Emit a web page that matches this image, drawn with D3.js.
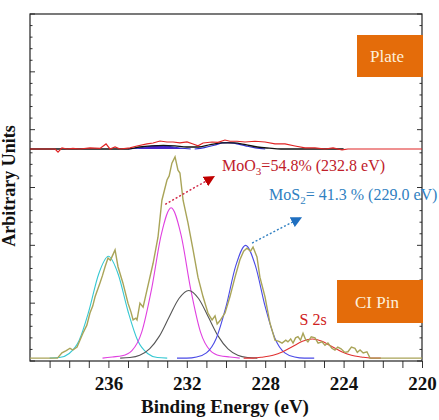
<!DOCTYPE html>
<html>
<head>
<meta charset="utf-8">
<script src="https://cdn.jsdelivr.net/npm/d3@7"></script>
<style>
  body { margin: 0; background: #fff; }
  svg text { font-family: "Liberation Serif", "Times New Roman", serif; }
</style>
</head>
<body>
<svg id="chart"></svg>
<script>
// measured spectrum, CI pin  [binding energy (eV), intensity]
const pinData = [
  [240.0, 0.05], [238.6, 0.05], [238.37, 0.14], [238.15, 0.18], [237.96, 0.22], [237.81, 0.19],
  [237.6, 0.24], [237.3, 0.48], [237.1, 0.62], [236.94, 0.83], [236.8, 0.95], [236.68, 1.11],
  [236.43, 1.35], [236.3, 1.48], [236.17, 1.63], [236.02, 1.78], [235.9, 1.74], [235.82, 1.80],
  [235.66, 1.92], [235.51, 1.63], [235.26, 1.35], [235.0, 1.00], [234.85, 0.85], [234.74, 0.71],
  [234.6, 0.74], [234.54, 0.71], [234.39, 1.00], [234.23, 0.93], [234.03, 1.23], [233.72, 1.69],
  [233.47, 2.14], [233.27, 2.78], [233.01, 3.13], [232.9, 3.20], [232.76, 3.42], [232.6, 3.53],
  [232.45, 3.30], [232.35, 3.25], [232.19, 2.78], [231.94, 2.39], [231.68, 1.92], [231.43, 1.45],
  [231.17, 1.11], [230.92, 0.83], [230.8, 0.76], [230.71, 0.71], [230.56, 0.78], [230.45, 0.64],
  [230.3, 0.70], [230.05, 0.83], [229.8, 1.11], [229.54, 1.45], [229.29, 1.75], [229.1, 1.90],
  [228.93, 1.95], [228.75, 1.90], [228.62, 1.97], [228.42, 1.80], [228.27, 1.45], [228.01, 1.11],
  [227.76, 0.66], [227.5, 0.36], [227.3, 0.34], [227.14, 0.31], [226.95, 0.36], [226.84, 0.33],
  [226.7, 0.38], [226.58, 0.31], [226.45, 0.40], [226.33, 0.42], [226.2, 0.36], [226.07, 0.48],
  [225.95, 0.38], [225.82, 0.33], [225.65, 0.42], [225.46, 0.40], [225.3, 0.31], [225.1, 0.33],
  [224.95, 0.27], [224.8, 0.31], [224.6, 0.22], [224.44, 0.19], [224.3, 0.24], [224.13, 0.21],
  [223.95, 0.15], [223.78, 0.16], [223.6, 0.24], [223.42, 0.22], [223.3, 0.15], [223.16, 0.19],
  [223.0, 0.14], [222.81, 0.16], [222.65, 0.05], [220.0, 0.05]
];

// fitted components, CI pin
const pinMoO3High = [ // 236.0 eV
  [239.0, 0.05], [238.5, 0.06], [238.0, 0.13], [237.5, 0.35], [237.0, 0.86], [236.5, 1.50],
  [236.0, 1.81], [235.5, 1.50], [235.0, 0.86], [234.5, 0.35], [234.0, 0.13], [233.5, 0.06], [233.0, 0.05]
];
const pinMoO3 = [ // 232.8 eV
  [236.3, 0.05], [235.8, 0.07], [235.3, 0.09], [234.8, 0.18], [234.3, 0.50], [233.8, 1.24],
  [233.3, 2.19], [232.8, 2.65], [232.3, 2.19], [231.8, 1.24], [231.3, 0.50], [230.8, 0.18],
  [230.3, 0.09], [229.8, 0.07], [229.3, 0.05]
];
const pinMoS2High = [ // 231.9 eV
  [235.4, 0.05], [234.9, 0.06], [234.4, 0.10], [233.9, 0.21], [233.4, 0.43], [232.9, 0.76],
  [232.4, 1.08], [231.9, 1.22], [231.4, 1.08], [230.9, 0.76], [230.4, 0.43], [229.9, 0.21],
  [229.4, 0.10], [228.9, 0.06], [228.4, 0.05]
];
const pinMoS2 = [ // 229.0 eV
  [232.5, 0.05], [232.0, 0.05], [231.5, 0.07], [231.0, 0.14], [230.5, 0.39], [230.0, 0.94],
  [229.5, 1.65], [229.0, 2.00], [228.5, 1.65], [228.0, 0.94], [227.5, 0.39], [227.0, 0.14],
  [226.5, 0.07], [226.0, 0.05], [225.5, 0.05]
];
const pinS2s = [ // 225.6 eV
  [229.1, 0.05], [228.6, 0.05], [228.1, 0.07], [227.6, 0.10], [227.1, 0.16], [226.6, 0.25],
  [226.1, 0.34], [225.6, 0.38], [225.1, 0.34], [224.6, 0.25], [224.1, 0.16], [223.6, 0.10],
  [223.1, 0.07], [222.6, 0.05], [222.1, 0.05]
];

// measured spectrum, plate
const plateData = [
  [240.0, 3.666], [238.72, 3.666], [238.57, 3.61], [238.37, 3.685], [238.11, 3.666], [237.81, 3.675],
  [237.45, 3.666], [236.94, 3.685], [236.43, 3.675], [236.12, 3.753], [235.92, 3.666], [235.66, 3.70],
  [235.41, 3.666], [234.9, 3.685], [234.54, 3.718], [234.03, 3.753], [233.72, 3.77], [233.37, 3.804],
  [233.01, 3.787], [232.7, 3.787], [232.35, 3.77], [231.99, 3.787], [231.68, 3.753], [231.43, 3.72],
  [231.17, 3.77], [230.71, 3.787], [230.41, 3.78], [230.05, 3.821], [229.8, 3.80], [229.44, 3.80],
  [229.03, 3.787], [228.52, 3.80], [228.01, 3.787], [227.5, 3.753], [226.99, 3.753], [226.48, 3.718],
  [225.97, 3.685], [225.46, 3.685], [224.95, 3.666], [224.54, 3.685], [224.08, 3.649], [223.78, 3.666],
  [220.0, 3.666]
];
const plateFit = [
  [240.0, 3.666], [235.0, 3.666], [234.4, 3.70], [233.8, 3.72], [233.2, 3.73], [232.6, 3.72],
  [232.0, 3.70], [231.4, 3.70], [230.8, 3.74], [230.2, 3.77], [229.6, 3.77], [229.0, 3.74],
  [228.4, 3.70], [227.8, 3.68], [227.2, 3.666], [224.0, 3.666]
];
const plateComp1 = [
  [235.0, 3.666], [234.5, 3.68], [234.0, 3.705], [233.4, 3.726], [232.8, 3.705], [232.3, 3.68], [231.8, 3.666]
];
const plateComp2 = [
  [231.6, 3.666], [231.1, 3.69], [230.6, 3.73], [230.2, 3.77], [229.9, 3.776], [229.5, 3.76],
  [229.0, 3.72], [228.5, 3.685], [228.0, 3.666]
];

const xTickLabels = [236, 232, 228, 224, 220];

class XpsChart {
  constructor(_config) {
    this.config = {
      parentElement: _config.parentElement,
      containerWidth: 439,
      containerHeight: 420,
      margin: { top: 14, right: 17, bottom: 59, left: 30 },
    };
    this.initVis();
  }

  initVis() {
    let vis = this;
    vis.width = vis.config.containerWidth - vis.config.margin.left - vis.config.margin.right;
    vis.height = vis.config.containerHeight - vis.config.margin.top - vis.config.margin.bottom;

    vis.svg = d3.select(vis.config.parentElement)
      .attr('width', vis.config.containerWidth)
      .attr('height', vis.config.containerHeight);

    vis.chart = vis.svg.append('g')
      .attr('transform', `translate(${vis.config.margin.left},${vis.config.margin.top})`);

    vis.xScale = d3.scaleLinear().domain([240, 220]).range([0, vis.width]);
    vis.yScale = d3.scaleLinear().domain([0, 6]).range([vis.height, 0]);

    vis.line = d3.line()
      .x(d => vis.xScale(d[0]))
      .y(d => vis.yScale(d[1]));

    vis.smooth = d3.line()
      .curve(d3.curveMonotoneX)
      .x(d => vis.xScale(d[0]))
      .y(d => vis.yScale(d[1]));

    // arrow heads
    const defs = vis.svg.append('defs');
    [['arrow-red', '#c00000'], ['arrow-blue', '#1f6fc0']].forEach(([id, col]) => {
      defs.append('marker')
        .attr('id', id)
        .attr('viewBox', '0 0 10 10')
        .attr('refX', 8).attr('refY', 5)
        .attr('markerWidth', 11).attr('markerHeight', 11)
        .attr('markerUnits', 'userSpaceOnUse')
        .attr('orient', 'auto')
        .append('path')
        .attr('d', 'M0,0 L10,5 L0,10 z')
        .attr('fill', col);
    });

    vis.renderVis();
  }

  renderVis() {
    let vis = this;
    const x = vis.xScale, y = vis.yScale;
    const sorted = arr => arr.slice().sort((a, b) => b[0] - a[0]);

    // x axis ticks every 1 eV, labels every 4
    const xAxis = d3.axisBottom(x)
      .tickValues(d3.range(239, 219, -1))
      .tickSize(7)
      .tickSizeOuter(0)
      .tickFormat(d => xTickLabels.includes(d) ? d : '');
    const xAxisG = vis.chart.append('g')
      .attr('class', 'axis x-axis')
      .attr('transform', `translate(0,${vis.height})`)
      .call(xAxis);
    xAxisG.select('.domain').remove();
    xAxisG.selectAll('.tick line').attr('stroke', '#333').attr('stroke-width', 1);
    xAxisG.selectAll('.tick text')
      .attr('dy', '1.0em')
      .attr('font-size', 19)
      .attr('font-weight', 'bold')
      .attr('fill', '#111')
      .style('font-family', '"Liberation Serif", serif');

    // y ticks inside on both sides
    const yTicks = d3.range(0, 6.01, 0.2);
    [0, vis.width].forEach((px, side) => {
      vis.chart.append('g').selectAll('line')
        .data(yTicks)
        .join('line')
        .attr('x1', px)
        .attr('x2', d => {
          const len = Math.abs(d - Math.round(d)) < 1e-6 ? 5 : 2.5;
          return side === 0 ? px + len : px - len;
        })
        .attr('y1', d => y(d)).attr('y2', d => y(d))
        .attr('stroke', '#333');
    });

    // frame
    vis.chart.append('rect')
      .attr('width', vis.width).attr('height', vis.height)
      .attr('fill', 'none').attr('stroke', '#222').attr('stroke-width', 1.2);

    // plate spectrum
    vis.chart.append('path')
      .datum(sorted(plateComp1))
      .attr('d', vis.smooth)
      .attr('fill', '#4a25c8').attr('stroke', '#3030d0').attr('stroke-width', 1);
    vis.chart.append('path')
      .datum(sorted(plateComp2))
      .attr('d', vis.smooth)
      .attr('fill', 'none').attr('stroke', '#3030d0').attr('stroke-width', 1.2);
    vis.chart.append('path')
      .datum(sorted(plateFit))
      .attr('d', vis.smooth)
      .attr('fill', 'none').attr('stroke', '#111').attr('stroke-width', 1.3);
    vis.chart.append('path')
      .datum(plateData)
      .attr('d', vis.line)
      .attr('fill', 'none').attr('stroke', '#e02424').attr('stroke-width', 1.2);

    // pin components
    const comps = [
      [pinMoO3High, '#36c8d2'],
      [pinMoO3, '#e040e0'],
      [pinMoS2High, '#555555'],
      [pinMoS2, '#4a4ae6'],
      [pinS2s, '#e03030'],
    ];
    comps.forEach(([arr, col]) => {
      vis.chart.append('path')
        .datum(sorted(arr))
        .attr('d', vis.smooth)
        .attr('fill', 'none').attr('stroke', col).attr('stroke-width', 1.1);
    });

    vis.chart.append('path')
      .datum(pinData)
      .attr('d', vis.line)
      .attr('fill', 'none').attr('stroke', '#a9a458').attr('stroke-width', 1.4);

    // annotations
    const mo3 = vis.chart.append('text')
      .attr('x', x(230.2)).attr('y', y(3.28))
      .attr('font-size', 16).attr('fill', '#c0202a');
    mo3.append('tspan').text('MoO');
    mo3.append('tspan').attr('font-size', 11).attr('dy', 4).text('3');
    mo3.append('tspan').attr('dy', -4).text('=54.8% (232.8 eV)');

    const ms2 = vis.chart.append('text')
      .attr('x', x(227.8)).attr('y', y(2.78))
      .attr('font-size', 16).attr('fill', '#2f7fc1');
    ms2.append('tspan').text('MoS');
    ms2.append('tspan').attr('font-size', 11).attr('dy', 4).text('2');
    ms2.append('tspan').attr('dy', -4).text('= 41.3 % (229.0 eV)');

    vis.chart.append('text')
      .attr('x', x(226.25)).attr('y', y(0.62))
      .attr('font-size', 16).attr('fill', '#d02020')
      .text('S 2s');

    vis.chart.append('line')
      .attr('x1', x(233.1)).attr('y1', y(2.71))
      .attr('x2', x(230.66)).attr('y2', y(3.18))
      .attr('stroke', '#d02040').attr('stroke-width', 1.4)
      .attr('stroke-dasharray', '2,2')
      .attr('marker-end', 'url(#arrow-red)');

    vis.chart.append('line')
      .attr('x1', x(228.67)).attr('y1', y(2.04))
      .attr('x2', x(226.22)).attr('y2', y(2.47))
      .attr('stroke', '#2f7fc1').attr('stroke-width', 1.4)
      .attr('stroke-dasharray', '2,2')
      .attr('marker-end', 'url(#arrow-blue)');

    // sample boxes
    const boxes = [
      { label: 'Plate', x0: 357, y0: 35, w: 66, h: 42 },
      { label: 'CI Pin', x0: 337, y0: 280, w: 86, h: 43 },
    ];
    boxes.forEach(b => {
      vis.svg.append('rect')
        .attr('x', b.x0).attr('y', b.y0).attr('width', b.w).attr('height', b.h)
        .attr('fill', '#e46c0a');
      vis.svg.append('text')
        .attr('x', b.x0 + b.w / 2 - 3).attr('y', b.y0 + b.h / 2 + 6)
        .attr('text-anchor', 'middle')
        .attr('font-size', 17).attr('fill', '#fdf0dc')
        .text(b.label);
    });

    // axis titles
    vis.svg.append('text')
      .attr('x', vis.config.margin.left + x(230.05))
      .attr('y', 413)
      .attr('text-anchor', 'middle')
      .attr('font-size', 19).attr('font-weight', 'bold').attr('fill', '#111')
      .text('Binding Energy (eV)');

    vis.svg.append('text')
      .attr('transform', 'translate(15,186) rotate(-90)')
      .attr('text-anchor', 'middle')
      .attr('font-size', 18).attr('font-weight', 'bold').attr('fill', '#111')
      .text('Arbitrary Units');
  }
}

new XpsChart({ parentElement: '#chart' });
</script>
</body>
</html>
